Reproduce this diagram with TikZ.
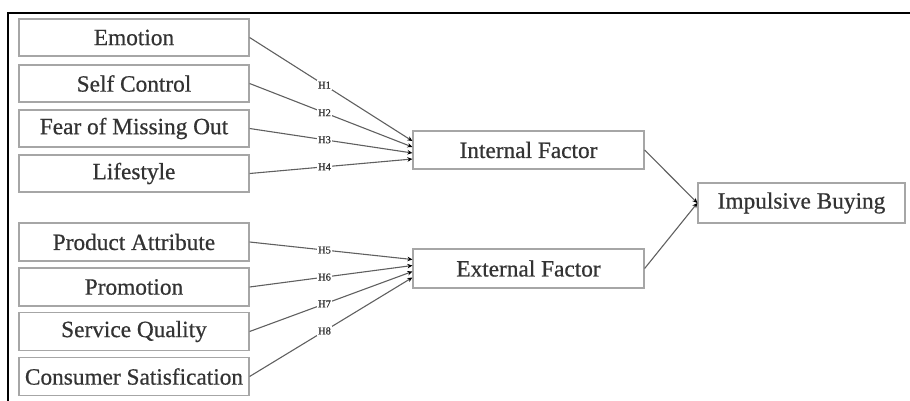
\documentclass[tikz,border=0pt]{standalone}
\usepackage{fontspec}
\setmainfont{Liberation Serif}
\newfontfamily\boxfont[FakeBold=0.6]{Liberation Serif}
\usetikzlibrary{arrows.meta}
\definecolor{boxline}{HTML}{A6A6A6}
\definecolor{linkline}{HTML}{606060}
\definecolor{textcol}{HTML}{333333}
\begin{document}
\begin{tikzpicture}[x=1pt,y=-1pt,
  var/.style={draw=boxline,line width=1.2pt,fill=white,rectangle,inner sep=0pt,
    minimum width=230pt,minimum height=37pt,text=textcol,
    font=\boxfont\fontsize{23.3}{26}\selectfont},
  link/.style={draw=linkline,line width=1.1pt,
    -{Stealth[length=5pt,width=4.5pt,black]}},
  hyp/.style={fill=white,inner sep=1.2pt,text=textcol,
    font=\boxfont\fontsize{10.5}{12}\selectfont}]
\useasboundingbox (0,0) rectangle (910,400);
% outer frame (top and left edges)
\draw[line width=2pt,black] (8,401) -- (8,13) -- (911,13);

% internal factor indicators
\node[var] (emo) at (134,37.5) {Emotion};
\node[var] (sc)  at (134,83.5) {Self Control};
\node[var] (fomo) at (134,128.5) {Fear of Missing Out};
\node[var] (life) at (134,173.5) {Lifestyle};
% external factor indicators
\node[var,minimum height=38pt] (pa) at (134,242) {Product Attribute};
\node[var,minimum height=38pt] (promo) at (134,287) {Promotion};
\node[var,minimum height=38pt] (sq) at (134,331.5) {Service Quality};
\node[var,minimum height=38pt] (cs) at (134,376.5) {Consumer Satisfication};
% mediators and outcome
\node[var,minimum width=231pt,minimum height=38pt] (int) at (528.5,150) {Internal Factor};
\node[var,minimum width=231pt,minimum height=39pt] (ext) at (528.5,268.5) {External Factor};
\node[var,minimum width=207pt,minimum height=40pt] (ib) at (801.5,203) {Impulsive Buying};

% hypotheses H1--H4
\draw[link] (emo.east)  -- node[hyp,pos=0.46] {H1} ([yshift=9pt]int.west);
\draw[link] (sc.east)   -- node[hyp,pos=0.46] {H2} ([yshift=3pt]int.west);
\draw[link] (fomo.east) -- node[hyp,pos=0.46] {H3} ([yshift=-3pt]int.west);
\draw[link] (life.east) -- node[hyp,pos=0.46] {H4} ([yshift=-9pt]int.west);
% hypotheses H5--H8
\draw[link] (pa.east)    -- node[hyp,pos=0.46] {H5} ([yshift=9pt]ext.west);
\draw[link] (promo.east) -- node[hyp,pos=0.46] {H6} ([yshift=3pt]ext.west);
\draw[link] (sq.east)    -- node[hyp,pos=0.46] {H7} ([yshift=-3pt]ext.west);
\draw[link] (cs.east)    -- node[hyp,pos=0.46] {H8} ([yshift=-9pt]ext.west);
% mediators to outcome
\draw[link] (int.east) -- (ib.west);
\draw[link] (ext.east) -- (ib.west);
\end{tikzpicture}
\end{document}
